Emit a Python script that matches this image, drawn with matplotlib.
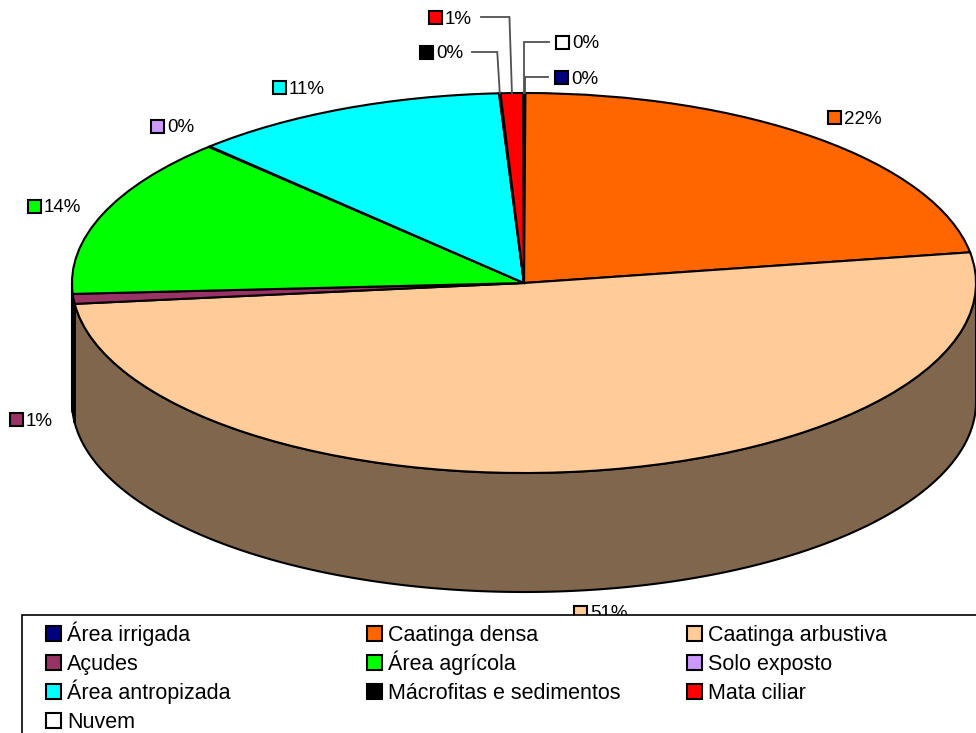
import numpy as np
import matplotlib
matplotlib.use('Agg')
import matplotlib.pyplot as plt
from matplotlib.patches import Polygon, Rectangle
from matplotlib.colors import to_rgb

plt.rcParams['font.family'] = ['Liberation Sans', 'DejaVu Sans']

# ---------------- data ----------------
categories = ['Área irrigada', 'Caatinga densa', 'Caatinga arbustiva', 'Açudes',
              'Área agrícola', 'Solo exposto', 'Área antropizada',
              'Mácrofitas e sedimentos', 'Mata ciliar', 'Nuvem']
values = [0.05, 22.4, 50.9, 0.84, 13.65, 0.05, 11.37, 0.05, 0.81, 0.02]
colors = ['#000080', '#FF6600', '#FFCC99', '#993366', '#00FF00',
          '#CC99FF', '#00FFFF', '#000000', '#FF0000', '#FFFFFF']

# ---------------- layout ----------------
W, H = 976, 733
CX, CY, RX, RY, DEPTH = 524, 283, 452, 190, 119   # pie geometry in pixels
# label marker positions (pixels, from top-left)
label_pos = [(555, 77), (828, 117), (574, 612), (10, 419), (28, 206),
             (151, 126), (273, 87), (420, 52), (429, 17), (556, 42)]
leader = {0: 'right', 7: 'left', 8: 'left', 9: 'right'}
LEG_X = [46, 367, 687]
LEG_Y0, LEG_DY = 633, 29.2

fig = plt.figure(figsize=(W / 100, H / 100), dpi=100)

# ---------------- pie (top face + side wall) ----------------
ax = fig.add_axes([0, 0, 1, 1])
wedges, _ = ax.pie(values, colors=colors, startangle=90, counterclock=False, radius=1,
                   wedgeprops=dict(edgecolor='black', linewidth=1.5, zorder=3))
ax.set_aspect('auto')
ax.set_xlim(-CX / RX, (W - CX) / RX)
ax.set_ylim(-(H - CY) / RY, CY / RY)
ax.axis('off')

d = DEPTH / RY
total = float(sum(values))
cum = np.concatenate([[0.0], np.cumsum(values)]) / total
for i, c in enumerate(colors):
    t_hi = 90 - 360 * cum[i]
    t_lo = 90 - 360 * cum[i + 1]
    a0, a1 = max(t_lo, -180), min(t_hi, 0)
    if a1 <= a0:
        continue
    t = np.radians(np.linspace(a0, a1, 200))
    top = np.column_stack([np.cos(t), np.sin(t)])
    bot = np.column_stack([np.cos(t[::-1]), np.sin(t[::-1]) - d])
    dark = tuple(0.5 * v for v in to_rgb(c))
    ax.add_patch(Polygon(np.vstack([top, bot]), closed=True, facecolor=dark,
                         edgecolor='black', linewidth=1.5, zorder=1))

# ---------------- overlay in pixel coords ----------------
ov = fig.add_axes([0, 0, 1, 1], facecolor='none')
ov.set_xlim(0, W)
ov.set_ylim(H, 0)
ov.axis('off')

for i, (v, c) in enumerate(zip(values, colors)):
    mx, my = label_pos[i]
    ov.add_patch(Rectangle((mx, my - 6.5), 13, 13, facecolor=c, edgecolor='black',
                           linewidth=1.5, zorder=2))
    ov.text(mx + 16, my + 6.5, f'{round(v / total * 100):.0f}%', fontsize=13.5,
            ha='left', va='baseline', zorder=2)
    if i in leader:
        mid = np.radians(90 - 360 * (cum[i] + cum[i + 1]) / 2)
        ex, ey = CX + RX * np.cos(mid), CY - RY * np.sin(mid)
        if leader[i] == 'left':
            sx = mx + 52
            elbow = ex - 2.5
        else:
            sx = mx - 7
            elbow = ex
        ov.plot([sx, elbow, ex], [my, my, ey], color='#505050', linewidth=1.3, zorder=1,
                solid_joinstyle='miter')

# ---------------- legend ----------------
ov.add_patch(Rectangle((22, 615), 1000, 200, facecolor='white', edgecolor='black',
                       linewidth=1.2, zorder=5, clip_on=False))
for i, (cat, c) in enumerate(zip(categories, colors)):
    r, col = divmod(i, 3)
    x = LEG_X[col]
    y = LEG_Y0 + r * LEG_DY
    ov.add_patch(Rectangle((x, y - 7.5), 15, 15, facecolor=c, edgecolor='black',
                           linewidth=1.5, zorder=6))
    ov.text(x + 21, y + 7.5, cat, fontsize=15.5, ha='left', va='baseline', zorder=7)

fig.savefig('out.png', dpi=100)
